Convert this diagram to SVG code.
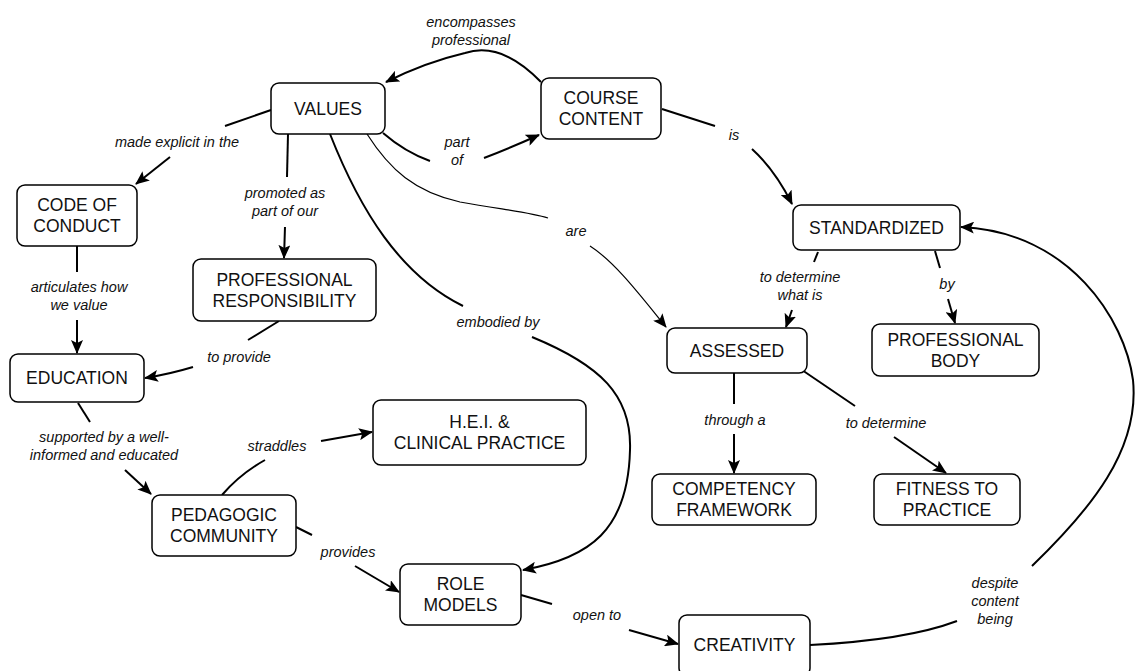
<svg xmlns="http://www.w3.org/2000/svg" width="1135" height="671" viewBox="0 0 1135 671">
  <style>
    .box { fill: #ffffff; stroke: #000000; stroke-width: 1.5; }
    .node text { font-family: "Liberation Sans", Arial, sans-serif; font-size: 17.5px; fill: #111111; text-anchor: middle; }
    .lbl { font-family: "Liberation Sans", Arial, sans-serif; font-size: 14.5px; font-style: italic; fill: #111111; text-anchor: middle; }
    .edge { fill: none; stroke: #000000; stroke-width: 2; }
    .thin { stroke-width: 1.2; }
  </style>
  <defs>
    <marker id="arrow" markerUnits="userSpaceOnUse" markerWidth="14" markerHeight="12" viewBox="0 0 14 12" refX="13" refY="6" orient="auto">
      <path d="M0,0 L14,6 L0,12 L3,6 Z" fill="#000000"/>
    </marker>
  </defs>
  <rect width="1135" height="671" fill="#ffffff"/>

  <!-- connectors -->
  <g id="connectors">
    <!-- course content -> values -->
    <path class="edge" d="M541,82 C515,55 490,45 465,53 C435,60 410,70 386,82" marker-end="url(#arrow)"/>
    <!-- values -> code of conduct -->
    <path class="edge" d="M271,110 L225,126"/>
    <path class="edge" d="M170,157 L136,184" marker-end="url(#arrow)"/>
    <!-- values -> professional responsibility -->
    <path class="edge" d="M288,134 L287,177"/>
    <path class="edge" d="M285,227 L284,258" marker-end="url(#arrow)"/>
    <!-- values -> course content -->
    <path class="edge" d="M383,133 Q405,152 430,161"/>
    <path class="edge" d="M484,158 Q510,148 539,135" marker-end="url(#arrow)"/>
    <!-- values -> assessed -->
    <path class="edge thin" d="M367,134 C390,170 415,192 460,202 C505,210 530,212 548,218"/>
    <path class="edge thin" d="M590,246 C615,262 640,295 666,327" marker-end="url(#arrow)"/>
    <!-- values -> role models -->
    <path class="edge" d="M330,134 C360,210 400,275 463,306"/>
    <path class="edge" d="M532,337 C600,365 632,395 630,450 C628,530 590,558 523,570" marker-end="url(#arrow)"/>
    <!-- course content -> standardized -->
    <path class="edge" d="M662,109 L715,126"/>
    <path class="edge" d="M752,149 Q775,170 792,204" marker-end="url(#arrow)"/>
    <!-- standardized -> assessed -->
    <path class="edge" d="M818,252 L814,262"/>
    <path class="edge" d="M792,310 L786,327" marker-end="url(#arrow)"/>
    <!-- standardized -> professional body -->
    <path class="edge" d="M935,251 L940,268"/>
    <path class="edge" d="M948,299 L955,323" marker-end="url(#arrow)"/>
    <!-- creativity -> standardized -->
    <path class="edge" d="M810,645 C870,642 920,635 957,621"/>
    <path class="edge" d="M1032,566 C1090,510 1140,450 1133,380 C1125,320 1070,232 961,227" marker-end="url(#arrow)"/>
    <!-- code of conduct -> education -->
    <path class="edge" d="M77,246 L77,272"/>
    <path class="edge" d="M77,320 L77,353" marker-end="url(#arrow)"/>
    <!-- professional responsibility -> education -->
    <path class="edge" d="M279,321 L248,340"/>
    <path class="edge" d="M193,367 Q170,374 145,378" marker-end="url(#arrow)"/>
    <!-- education -> pedagogic community -->
    <path class="edge" d="M78,403 L90,422"/>
    <path class="edge" d="M125,470 L151,494" marker-end="url(#arrow)"/>
    <!-- pedagogic community -> h.e.i. -->
    <path class="edge" d="M222,495 Q240,474 265,460"/>
    <path class="edge" d="M321,441 L372,432" marker-end="url(#arrow)"/>
    <!-- pedagogic community -> role models -->
    <path class="edge" d="M296,527 L312,535"/>
    <path class="edge" d="M355,566 L399,592" marker-end="url(#arrow)"/>
    <!-- role models -> creativity -->
    <path class="edge" d="M521,595 L552,604"/>
    <path class="edge" d="M629,630 L678,644" marker-end="url(#arrow)"/>
    <!-- assessed -> competency framework -->
    <path class="edge" d="M734,373 L734,404"/>
    <path class="edge" d="M734,434 L734,473" marker-end="url(#arrow)"/>
    <!-- assessed -> fitness to practice -->
    <path class="edge" d="M802,370 L855,406"/>
    <path class="edge" d="M894,437 L946,473" marker-end="url(#arrow)"/>
  </g>

  <!-- linking phrases -->
  <g id="labels">
    <text class="lbl" x="471" y="27">encompasses</text>
    <text class="lbl" x="471" y="45">professional</text>
    <text class="lbl" x="177" y="147">made explicit in the</text>
    <text class="lbl" x="285" y="198">promoted as</text>
    <text class="lbl" x="285" y="216">part of our</text>
    <text class="lbl" x="457" y="147">part</text>
    <text class="lbl" x="457" y="165">of</text>
    <text class="lbl" x="734" y="140">is</text>
    <text class="lbl" x="576" y="236">are</text>
    <text class="lbl" x="800" y="282">to determine</text>
    <text class="lbl" x="800" y="300">what is</text>
    <text class="lbl" x="947" y="289">by</text>
    <text class="lbl" x="79" y="292">articulates how</text>
    <text class="lbl" x="79" y="310">we value</text>
    <text class="lbl" x="239" y="362">to provide</text>
    <text class="lbl" x="104" y="442">supported by a well-</text>
    <text class="lbl" x="104" y="460">informed and educated</text>
    <text class="lbl" x="277" y="451">straddles</text>
    <text class="lbl" x="498" y="327">embodied by</text>
    <text class="lbl" x="348" y="557">provides</text>
    <text class="lbl" x="597" y="620">open to</text>
    <text class="lbl" x="735" y="425">through a</text>
    <text class="lbl" x="886" y="428">to determine</text>
    <text class="lbl" x="995" y="588">despite</text>
    <text class="lbl" x="995" y="606">content</text>
    <text class="lbl" x="995" y="624">being</text>
  </g>

  <!-- concepts -->
  <g id="values" class="node">
    <rect class="box" x="271" y="83" width="114" height="51" rx="8"/>
    <text x="328" y="115">VALUES</text>
  </g>
  <g id="course-content" class="node">
    <rect class="box" x="541" y="78" width="120" height="61" rx="8"/>
    <text x="601" y="104">COURSE</text>
    <text x="601" y="125">CONTENT</text>
  </g>
  <g id="code-of-conduct" class="node">
    <rect class="box" x="17" y="185" width="120" height="61" rx="8"/>
    <text x="77" y="211">CODE OF</text>
    <text x="77" y="232">CONDUCT</text>
  </g>
  <g id="professional-responsibility" class="node">
    <rect class="box" x="193" y="259" width="183" height="62" rx="8"/>
    <text x="284.5" y="286">PROFESSIONAL</text>
    <text x="284.5" y="307">RESPONSIBILITY</text>
  </g>
  <g id="standardized" class="node">
    <rect class="box" x="793" y="205" width="167" height="45" rx="8"/>
    <text x="876.5" y="234">STANDARDIZED</text>
  </g>
  <g id="assessed" class="node">
    <rect class="box" x="667" y="328" width="140" height="45" rx="8"/>
    <text x="737" y="357">ASSESSED</text>
  </g>
  <g id="professional-body" class="node">
    <rect class="box" x="872" y="324" width="167" height="52" rx="8"/>
    <text x="955.5" y="346">PROFESSIONAL</text>
    <text x="955.5" y="367">BODY</text>
  </g>
  <g id="education" class="node">
    <rect class="box" x="10" y="354" width="134" height="48" rx="8"/>
    <text x="77" y="384">EDUCATION</text>
  </g>
  <g id="hei-clinical-practice" class="node">
    <rect class="box" x="373" y="400" width="213" height="65" rx="8"/>
    <text x="479.5" y="428">H.E.I. &amp;</text>
    <text x="479.5" y="449">CLINICAL PRACTICE</text>
  </g>
  <g id="pedagogic-community" class="node">
    <rect class="box" x="152" y="495" width="144" height="61" rx="8"/>
    <text x="224" y="521">PEDAGOGIC</text>
    <text x="224" y="542">COMMUNITY</text>
  </g>
  <g id="role-models" class="node">
    <rect class="box" x="400" y="564" width="121" height="61" rx="8"/>
    <text x="460.5" y="590">ROLE</text>
    <text x="460.5" y="611">MODELS</text>
  </g>
  <g id="competency-framework" class="node">
    <rect class="box" x="652" y="474" width="164" height="51" rx="8"/>
    <text x="734" y="495">COMPETENCY</text>
    <text x="734" y="516">FRAMEWORK</text>
  </g>
  <g id="fitness-to-practice" class="node">
    <rect class="box" x="874" y="474" width="146" height="51" rx="8"/>
    <text x="947" y="495">FITNESS TO</text>
    <text x="947" y="516">PRACTICE</text>
  </g>
  <g id="creativity" class="node">
    <rect class="box" x="679" y="615" width="131" height="61" rx="8"/>
    <text x="744.5" y="651">CREATIVITY</text>
  </g>
</svg>
